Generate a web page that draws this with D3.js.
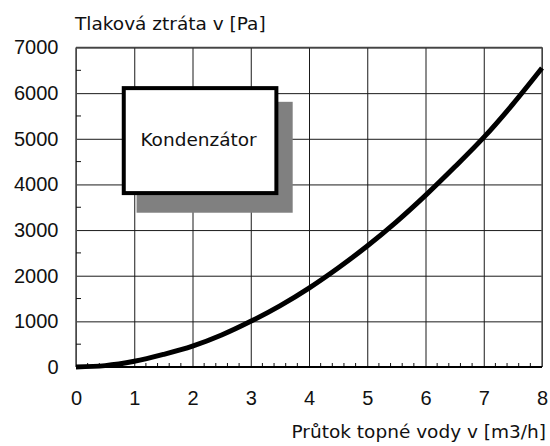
<!DOCTYPE html>
<html><head><meta charset="utf-8">
<script src="https://cdn.jsdelivr.net/npm/d3@7"></script>
<style>body{margin:0;background:#fff}svg{display:block}</style>
</head><body>
<svg id="c" width="550" height="446"></svg>
<script>
const flow = [0, 0.5, 1, 1.5, 2, 2.5, 3, 3.5, 4, 4.5, 5, 5.5, 6, 6.5, 7, 7.5, 8];
const pressure = [0, 30, 125, 275, 455, 700, 1000, 1340, 1730, 2170, 2650, 3180, 3760, 4380, 5030, 5760, 6550];
const xTicks = [0, 1, 2, 3, 4, 5, 6, 7, 8];
const yTicks = [0, 1000, 2000, 3000, 4000, 5000, 6000, 7000];
const yTitle = "Tlaková ztráta v [Pa]";
const xTitle = "Průtok topné vody v [m3/h]";
const boxLabel = "Kondenzátor";
const boxCorners = {x: [0.82, 3.44], y: [6110, 3810]};
const shadowCorners = {x: [1.04, 3.72], y: [5810, 3380]};

const svg = d3.select("#c");
const x = d3.scaleLinear().domain([0, 8]).range([76, 542]);
const y = d3.scaleLinear().domain([0, 7000]).range([367, 47.5]);
const tickFont = "'Liberation Sans', Arial, sans-serif";
const textFont = "'DejaVu Sans', Verdana, sans-serif";

// grid
const gx = svg.append("g").attr("transform", `translate(0,${y(0)})`)
  .call(d3.axisBottom(x).tickValues(xTicks).tickSize(-(y(0) - y(7000))).tickFormat(""));
gx.select(".domain").remove();
gx.selectAll("line").attr("stroke", "#1a1a1a").attr("stroke-width", 1);
const gy = svg.append("g").attr("transform", `translate(${x(0)},0)`)
  .call(d3.axisLeft(y).tickValues(yTicks).tickSize(-(x(8) - x(0))).tickFormat(""));
gy.select(".domain").remove();
gy.selectAll("line").attr("stroke", "#1a1a1a").attr("stroke-width", 1);

// frame
svg.append("line").attr("x1", x(0)).attr("x2", x(0)).attr("y1", y(7000)).attr("y2", y(0))
  .attr("stroke", "#555").attr("stroke-width", 1.6);
svg.append("line").attr("x1", x(8)).attr("x2", x(8)).attr("y1", y(7000)).attr("y2", y(0))
  .attr("stroke", "#555").attr("stroke-width", 1.4);
svg.append("line").attr("x1", x(0)).attr("x2", x(8)).attr("y1", y(7000)).attr("y2", y(7000))
  .attr("stroke", "#444").attr("stroke-width", 1.4);

// minor ticks
const yMinor = d3.range(500, 7000, 1000);
svg.append("g").selectAll("line").data(yMinor).join("line")
  .attr("x1", x(0)).attr("x2", x(0) + 5).attr("y1", d => y(d)).attr("y2", d => y(d))
  .attr("stroke", "#111").attr("stroke-width", 1);
const xMinor = d3.range(0, 40).map(i => i / 5).filter((d, i) => i % 5 !== 0);
svg.append("g").selectAll("line").data(xMinor).join("line")
  .attr("x1", d => x(d)).attr("x2", d => x(d)).attr("y1", y(0)).attr("y2", y(0) - 4)
  .attr("stroke", "#111").attr("stroke-width", 1);

// bottom axis line
svg.append("line").attr("x1", x(0)).attr("x2", x(8)).attr("y1", y(0)).attr("y2", y(0))
  .attr("stroke", "#000").attr("stroke-width", 2);

// tick labels
const ax = svg.append("g").attr("transform", `translate(0,${y(0)})`)
  .call(d3.axisBottom(x).tickValues(xTicks).tickSize(0).tickPadding(24).tickFormat(d3.format("d")));
ax.select(".domain").remove();
ax.selectAll("text").attr("font-family", tickFont).attr("font-size", 20).attr("fill", "#111");
const ay = svg.append("g").attr("transform", `translate(${x(0) - 17.5},0)`)
  .call(d3.axisLeft(y).tickValues(yTicks).tickSize(0).tickPadding(0).tickFormat(d3.format("d")));
ay.select(".domain").remove();
ay.selectAll("text").attr("font-family", tickFont).attr("font-size", 20).attr("fill", "#111");

// shadow + box
svg.append("rect")
  .attr("x", x(shadowCorners.x[0])).attr("y", y(shadowCorners.y[0]))
  .attr("width", x(shadowCorners.x[1]) - x(shadowCorners.x[0]))
  .attr("height", y(shadowCorners.y[1]) - y(shadowCorners.y[0]))
  .attr("fill", "#808080");
svg.append("rect")
  .attr("x", x(boxCorners.x[0])).attr("y", y(boxCorners.y[0]))
  .attr("width", x(boxCorners.x[1]) - x(boxCorners.x[0]))
  .attr("height", y(boxCorners.y[1]) - y(boxCorners.y[0]))
  .attr("fill", "#fff").attr("stroke", "#000").attr("stroke-width", 4);
svg.append("text")
  .attr("x", (x(boxCorners.x[0]) + x(boxCorners.x[1])) / 2 - 1.5)
  .attr("y", 146).attr("text-anchor", "middle")
  .attr("font-family", textFont).attr("font-size", 18.5).attr("fill", "#111").text(boxLabel);

// curve
const line = d3.line().x((d, i) => x(flow[i])).y(d => y(d)).curve(d3.curveMonotoneX);
svg.append("path").datum(pressure).attr("d", line)
  .attr("fill", "none").attr("stroke", "#000").attr("stroke-width", 5).attr("stroke-linecap", "butt");

// titles
svg.append("text").attr("x", 75).attr("y", 30)
  .attr("font-family", textFont).attr("font-size", 18.5).attr("fill", "#111").text(yTitle);
svg.append("text").attr("x", 546).attr("y", 438).attr("text-anchor", "end")
  .attr("font-family", textFont).attr("font-size", 18.5).attr("fill", "#111").text(xTitle);
</script>
</body></html>
